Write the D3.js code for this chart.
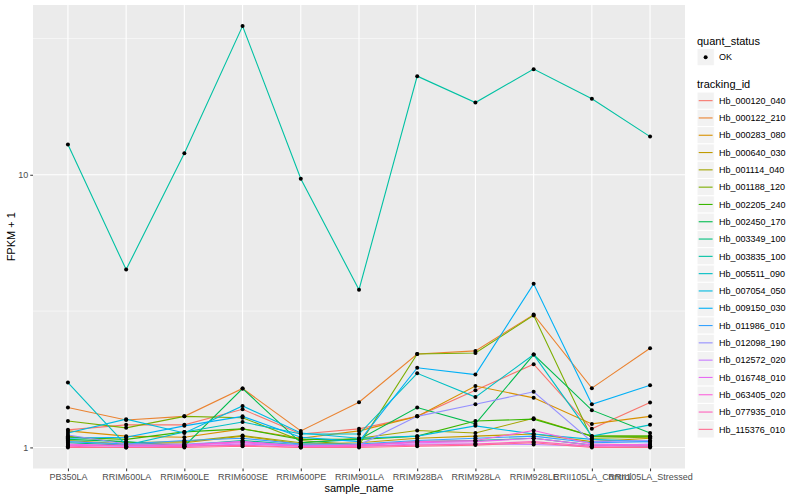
<!DOCTYPE html>
<html>
<head>
<meta charset="utf-8">
<script src="https://cdn.jsdelivr.net/npm/d3@7"></script>
<style>
  body { margin: 0; background: #fff; }
  text { font-family: "Liberation Sans", Arial, sans-serif; }
</style>
</head>
<body>
<svg class="chart"></svg>
<script>
// samples on the x axis
const samples = ["PB350LA", "RRIM600LA", "RRIM600LE", "RRIM600SE", "RRIM600PE", "RRIM901LA",
  "RRIM928BA", "RRIM928LA", "RRIM928LE", "RRII105LA_Control", "RRII105LA_Stressed"];

// genes (legend order)
const trackingIds = ["Hb_000120_040", "Hb_000122_210", "Hb_000283_080", "Hb_000640_030", "Hb_001114_040",
  "Hb_001188_120", "Hb_002205_240", "Hb_002450_170", "Hb_003349_100", "Hb_003835_100",
  "Hb_005511_090", "Hb_007054_050", "Hb_009150_030", "Hb_011986_010", "Hb_012098_190",
  "Hb_012572_020", "Hb_016748_010", "Hb_063405_020", "Hb_077935_010", "Hb_115376_010"];

// FPKM + 1, one row per gene, one value per sample
const fpkm = [
  [1.16, 1.21, 1.21, 1.38, 1.12, 1.17, 1.30, 1.62, 2.02, 1.17, 1.46],
  [1.40, 1.26, 1.30, 1.645, 1.15, 1.465, 2.20, 2.26, 3.07, 1.65, 2.31],
  [1.15, 1.10, 1.09, 1.17, 1.08, 1.15, 1.30, 1.68, 1.52, 1.22, 1.30],
  [1.06, 1.03, 1.04, 1.10, 1.03, 1.04, 1.08, 1.10, 1.12, 1.05, 1.08],
  [1.10, 1.04, 1.05, 1.106, 1.04, 1.08, 1.154, 1.13, 1.28, 1.10, 1.10],
  [1.25, 1.18, 1.30, 1.285, 1.06, 1.02, 2.20, 2.22, 3.05, 1.08, 1.09],
  [1.09, 1.07, 1.14, 1.17, 1.07, 1.07, 1.10, 1.25, 1.27, 1.10, 1.10],
  [1.07, 1.05, 1.01, 1.645, 1.04, 1.07, 1.40, 1.22, 2.19, 1.37, 1.13],
  [1.04, 1.02, 1.02, 1.06, 1.02, 1.02, 1.05, 1.06, 1.08, 1.02, 1.01],
  [12.9, 4.49, 12.0, 35.1, 9.67, 3.79, 23.0, 18.4, 24.4, 19.0, 13.8],
  [1.73, 1.02, 1.14, 1.24, 1.12, 1.12, 1.87, 1.53, 2.19, 1.10, 1.21],
  [1.13, 1.27, 1.13, 1.42, 1.13, 1.08, 1.10, 1.20, 1.12, 1.07, 1.05],
  [1.08, 1.09, 1.20, 1.30, 1.09, 1.05, 1.96, 1.85, 3.98, 1.44, 1.69],
  [1.05, 1.03, 1.06, 1.08, 1.03, 1.03, 1.06, 1.08, 1.10, 1.04, 1.05],
  [1.11, 1.03, 1.03, 1.05, 1.02, 1.02, 1.30, 1.44, 1.60, 1.05, 1.06],
  [1.02, 1.01, 1.01, 1.03, 1.01, 1.01, 1.03, 1.03, 1.025, 1.01, 1.03],
  [1.03, 1.01, 1.02, 1.04, 1.01, 1.02, 1.04, 1.05, 1.08, 1.02, 1.02],
  [1.02, 1.02, 1.02, 1.05, 1.01, 1.02, 1.05, 1.06, 1.154, 1.03, 1.02],
  [1.01, 1.00, 1.01, 1.02, 1.00, 1.01, 1.02, 1.03, 1.05, 1.01, 1.01],
  [1.00, 1.00, 1.00, 1.01, 1.00, 1.00, 1.01, 1.02, 1.04, 1.00, 1.00]
];

const yMajor = [1, 10];
const yMinor = [Math.sqrt(10), Math.sqrt(1000)];

// ggplot default hue palette, 20 levels
const palette = ["#F8766D", "#EA8331", "#D89000", "#C09B00", "#A3A500", "#7CAE00", "#39B600", "#00BB4E",
  "#00BF7D", "#00C1A3", "#00BFC4", "#00BAE0", "#00B0F6", "#35A2FF", "#9590FF", "#C77CFF",
  "#E76BF3", "#FA62DB", "#FF62BC", "#FF6C91"];

const styles = {
  width: 800,
  height: 500,
  panel: { left: 33, right: 685, top: 5, bottom: 468.5 }
}

const series = trackingIds.map((id, i) => ({
  id, color: palette[i],
  values: samples.map((s, j) => ({ sample: s, value: fpkm[i][j] }))
}));

const allValues = fpkm.flat();
const lmin = Math.log10(d3.min(allValues)), lmax = Math.log10(d3.max(allValues));
const pad = (lmax - lmin) * 0.05;

const x = d3.scalePoint()
  .domain(samples)
  .range([styles.panel.left, styles.panel.right])
  .padding(0.6);

const y = d3.scaleLog()
  .domain([Math.pow(10, lmin - pad), Math.pow(10, lmax + pad)])
  .range([styles.panel.bottom, styles.panel.top]);

const color = d3.scaleOrdinal().domain(trackingIds).range(palette);

const svg = d3.select('.chart')
  .attr('width', styles.width)
  .attr('height', styles.height)
  .attr('viewBox', [0, 0, styles.width, styles.height]);

// panel background
svg.append('rect')
  .attr('x', styles.panel.left)
  .attr('y', styles.panel.top)
  .attr('width', styles.panel.right - styles.panel.left)
  .attr('height', styles.panel.bottom - styles.panel.top)
  .attr('fill', '#EBEBEB');

// grid
const grid = svg.append('g').attr('stroke', '#fff');
grid.selectAll('.minor').data(yMinor).join('line')
  .attr('x1', styles.panel.left).attr('x2', styles.panel.right)
  .attr('y1', d => y(d)).attr('y2', d => y(d))
  .attr('stroke-width', 0.55);
grid.selectAll('.major').data(yMajor).join('line')
  .attr('x1', styles.panel.left).attr('x2', styles.panel.right)
  .attr('y1', d => y(d)).attr('y2', d => y(d))
  .attr('stroke-width', 1.1);
grid.selectAll('.vx').data(samples).join('line')
  .attr('x1', d => x(d)).attr('x2', d => x(d))
  .attr('y1', styles.panel.top).attr('y2', styles.panel.bottom)
  .attr('stroke-width', 1.1);

// lines
const line = d3.line()
  .x(d => x(d.sample))
  .y(d => y(d.value));

svg.append('g')
  .attr('fill', 'none')
  .attr('stroke-width', 1.1)
  .selectAll('path')
  .data(series)
  .join('path')
  .attr('stroke', d => color(d.id))
  .attr('d', d => line(d.values));

// points
svg.append('g')
  .attr('fill', '#000')
  .selectAll('circle')
  .data(series.flatMap(d => d.values))
  .join('circle')
  .attr('cx', d => x(d.sample))
  .attr('cy', d => y(d.value))
  .attr('r', 2);

// axes
const xAxis = svg.append('g')
  .attr('transform', `translate(0,${styles.panel.bottom})`)
  .call(d3.axisBottom(x).tickSize(2.75).tickPadding(2));
const yAxis = svg.append('g')
  .attr('transform', `translate(${styles.panel.left},0)`)
  .call(d3.axisLeft(y).tickValues(yMajor).tickFormat(d3.format('d')).tickSize(2.75).tickPadding(2));

[xAxis, yAxis].forEach(a => {
  a.select('.domain').remove();
  a.selectAll('line').attr('stroke', '#333');
  a.selectAll('text').attr('fill', '#4D4D4D').attr('font-size', 9)
    .attr('font-family', '"Liberation Sans", Arial, sans-serif');
});

svg.append('text')
  .attr('x', (styles.panel.left + styles.panel.right) / 2)
  .attr('y', 492)
  .attr('text-anchor', 'middle')
  .attr('font-size', 11)
  .text('sample_name');

svg.append('text')
  .attr('transform', `translate(15,${(styles.panel.top + styles.panel.bottom) / 2}) rotate(-90)`)
  .attr('text-anchor', 'middle')
  .attr('font-size', 11)
  .text('FPKM + 1');

// legend
const legend = svg.append('g').attr('transform', 'translate(697,0)');
const keySize = 17.3;

legend.append('text').attr('x', 0).attr('y', 44.5).attr('font-size', 11).text('quant_status');
legend.append('rect').attr('x', 0).attr('y', 48.5).attr('width', keySize).attr('height', keySize)
  .attr('fill', '#F2F2F2').attr('stroke', '#fff');
legend.append('circle').attr('cx', keySize / 2).attr('cy', 48.5 + keySize / 2).attr('r', 2).attr('fill', '#000');
legend.append('text').attr('x', 22).attr('y', 48.5 + keySize / 2 + 3.2).attr('font-size', 9).text('OK');

legend.append('text').attr('x', 0).attr('y', 88).attr('font-size', 11).text('tracking_id');

const items = legend.selectAll('.item')
  .data(trackingIds)
  .join('g')
  .attr('transform', (d, i) => `translate(0,${92 + i * keySize})`);
items.append('rect').attr('width', keySize).attr('height', keySize)
  .attr('fill', '#F2F2F2').attr('stroke', '#fff');
items.append('line')
  .attr('x1', 1.7).attr('x2', keySize - 1.7)
  .attr('y1', keySize / 2).attr('y2', keySize / 2)
  .attr('stroke', d => color(d)).attr('stroke-width', 1.1);
items.append('text')
  .attr('x', 22).attr('y', keySize / 2 + 3.2)
  .attr('font-size', 9)
  .text(d => d);
</script>
</body>
</html>
